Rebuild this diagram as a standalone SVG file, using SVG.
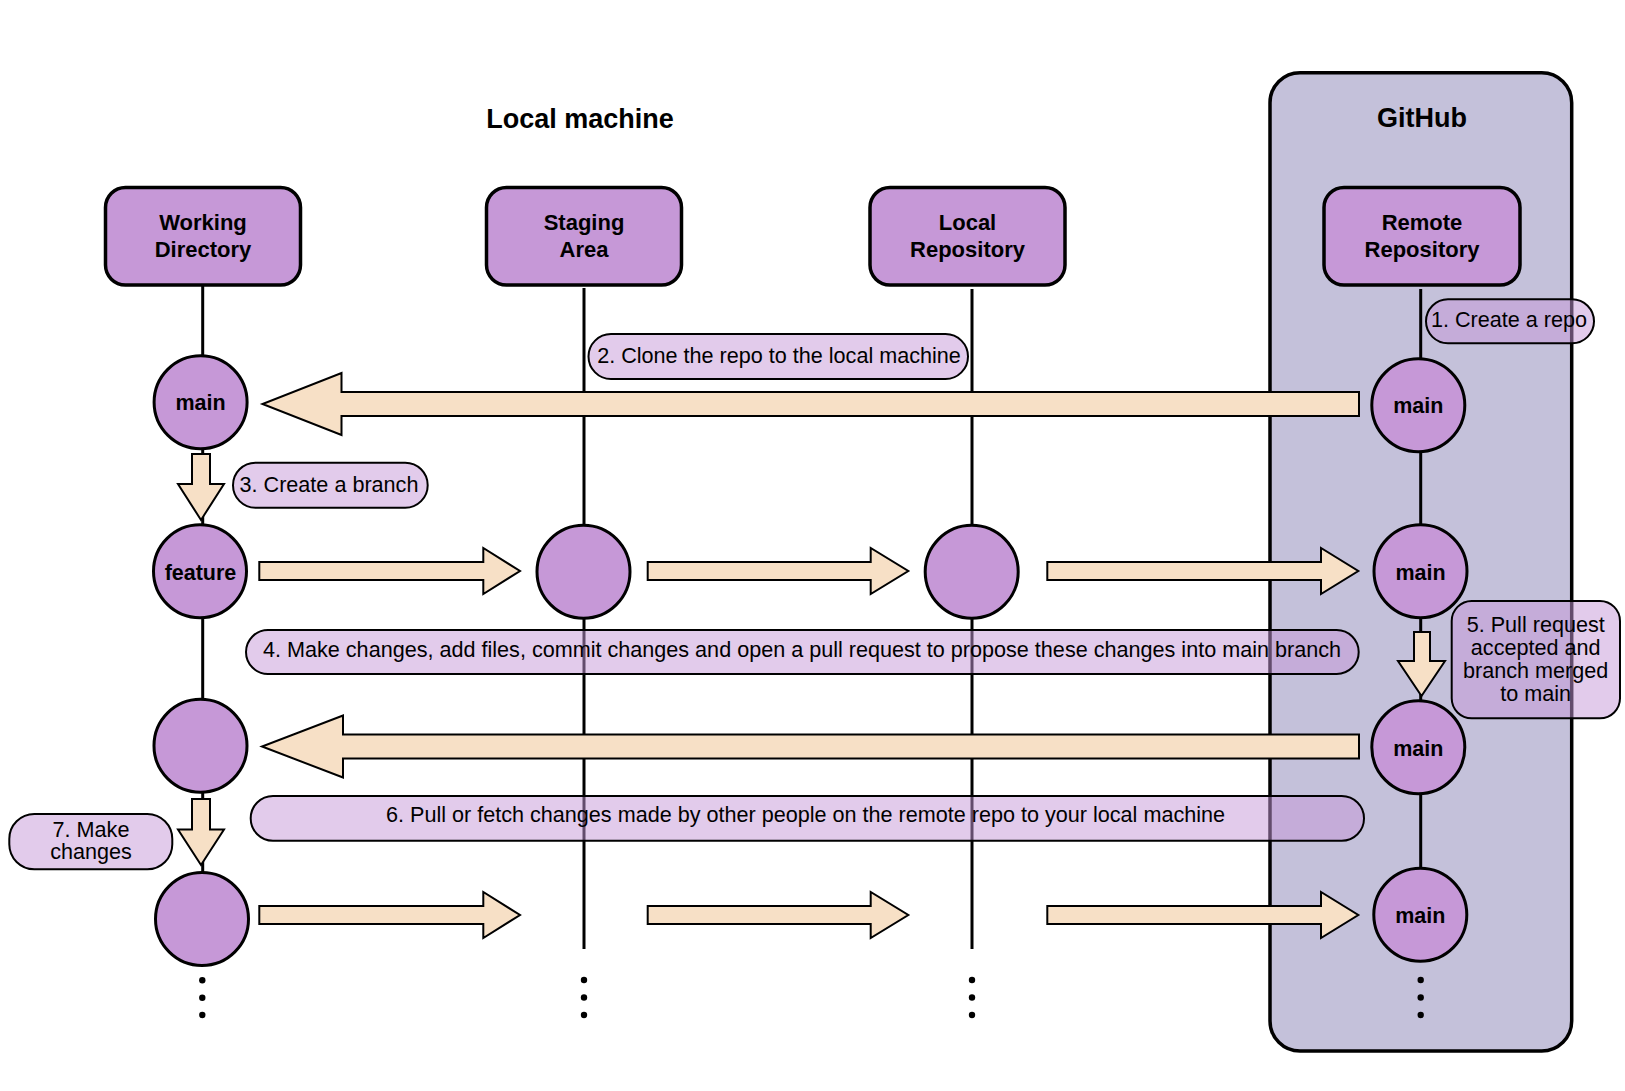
<svg xmlns="http://www.w3.org/2000/svg" width="1625" height="1091" viewBox="0 0 1625 1091">
<style>
text{font-family:"Liberation Sans",Arial,Helvetica,sans-serif;fill:#000}
.title{font-size:27px;font-weight:bold;text-anchor:middle}
.box{fill:#C698D7;stroke:#000;stroke-width:3.5}
.boxt{font-size:22px;font-weight:bold;text-anchor:middle}
.circ{fill:#C698D7;stroke:#000;stroke-width:3}
.ct{font-size:21.5px;font-weight:bold;text-anchor:middle}
.life{stroke:#000;stroke-width:3;fill:none}
.arr{fill:#F7E0C6;stroke:#000;stroke-width:2;stroke-linejoin:miter}
.lab{fill:#C698D7;fill-opacity:0.5;stroke:#000;stroke-width:2}
.lt{font-size:21.6px;text-anchor:middle}
.dot{fill:#000}
</style>
<rect width="1625" height="1091" fill="#fff"/>

<g id="github">
<rect x="1270" y="72.7" width="301.7" height="978.3" rx="30" fill="#C4C1DA" stroke="#000" stroke-width="3.5"/>
<text class="title" x="1422" y="127.3">GitHub</text>
</g>
<g id="local-machine-title">
<text class="title" x="580" y="127.7">Local machine</text>
</g>

<g id="connectors">
<line class="life" x1="202.7" y1="285" x2="202.7" y2="905"/>
<line class="life" x1="584" y1="288" x2="584" y2="949"/>
<line class="life" x1="972" y1="289" x2="972" y2="949"/>
<line class="life" x1="1420.7" y1="289" x2="1420.7" y2="900"/>

<polygon id="arrow-clone" class="arr" points="1359,392 341.5,392 341.5,373 262.5,404 341.5,435 341.5,416 1359,416"/>
<polygon id="arrow-branch" class="arr" points="192,454 210,454 210,484 224,484 201,520 178,484 192,484"/>
<polygon class="arr" points="259.3,562 483.3,562 483.3,548 520,571 483.3,594 483.3,580 259.3,580"/>
<polygon class="arr" points="647.7,562 870.7,562 870.7,548 908.3,571 870.7,594 870.7,580 647.7,580"/>
<polygon class="arr" points="1047.3,562 1321,562 1321,548 1358.3,571 1321,594 1321,580 1047.3,580"/>
<polygon id="arrow-merge" class="arr" points="1414,632 1430,632 1430,661 1445,661 1421.5,696 1398,661 1414,661"/>
<polygon id="arrow-pull" class="arr" points="1359,734.5 343,734.5 343,715.5 262,746.5 343,777.5 343,758.5 1359,758.5"/>
<polygon id="arrow-changes" class="arr" points="192,799 210,799 210,829.5 224,829.5 201,865 178,829.5 192,829.5"/>
<polygon class="arr" points="259.3,906 483.3,906 483.3,892 520,915 483.3,938 483.3,924 259.3,924"/>
<polygon class="arr" points="647.7,906 870.7,906 870.7,892 908.3,915 870.7,938 870.7,924 647.7,924"/>
<polygon class="arr" points="1047.3,906 1321,906 1321,892 1358.3,915 1321,938 1321,924 1047.3,924"/>
</g>

<g id="working-directory">
<rect class="box" x="105.5" y="187.5" width="195" height="97.5" rx="20"/>
<text class="boxt" x="203" y="230">Working</text>
<text class="boxt" x="203" y="257">Directory</text>
</g>
<g id="staging-area">
<rect class="box" x="486.5" y="187.5" width="195" height="97.5" rx="20"/>
<text class="boxt" x="584" y="230">Staging</text>
<text class="boxt" x="584" y="257">Area</text>
</g>
<g id="local-repository">
<rect class="box" x="870" y="187.5" width="195" height="97.5" rx="20"/>
<text class="boxt" x="967.5" y="230">Local</text>
<text class="boxt" x="967.5" y="257">Repository</text>
</g>
<g id="remote-repository">
<rect class="box" x="1324" y="187.5" width="196" height="97.5" rx="20"/>
<text class="boxt" x="1422" y="230">Remote</text>
<text class="boxt" x="1422" y="257">Repository</text>
</g>

<g id="wd-main">
<circle class="circ" cx="200.6" cy="402.3" r="46.5"/>
<text class="ct" x="200.6" y="410.3">main</text>
</g>
<g id="wd-feature">
<circle class="circ" cx="200" cy="571.3" r="46.5"/>
<text class="ct" x="200.5" y="579.5">feature</text>
</g>
<g id="wd-commit-3">
<circle class="circ" cx="200.5" cy="745.7" r="46.5"/>
</g>
<g id="wd-commit-4">
<circle class="circ" cx="202" cy="919" r="46.5"/>
</g>
<g id="sa-commit">
<circle class="circ" cx="583.5" cy="571.7" r="46.5"/>
</g>
<g id="lr-commit">
<circle class="circ" cx="971.7" cy="571.7" r="46.5"/>
</g>
<g id="rr-main-1">
<circle class="circ" cx="1418.3" cy="405.3" r="46.5"/>
<text class="ct" x="1418.3" y="413.3">main</text>
</g>
<g id="rr-main-2">
<circle class="circ" cx="1420.5" cy="571.3" r="46.5"/>
<text class="ct" x="1420.5" y="579.5">main</text>
</g>
<g id="rr-main-3">
<circle class="circ" cx="1418.3" cy="747.3" r="46.5"/>
<text class="ct" x="1418.3" y="755.5">main</text>
</g>
<g id="rr-main-4">
<circle class="circ" cx="1420.3" cy="914.7" r="46.5"/>
<text class="ct" x="1420.3" y="923">main</text>
</g>

<g id="label-1">
<rect class="lab" x="1426" y="299.3" width="168" height="44" rx="22"/>
<text class="lt" x="1509" y="327.3">1. Create a repo</text>
</g>
<g id="label-2">
<rect class="lab" x="588.5" y="334" width="379.5" height="45" rx="22.5"/>
<text class="lt" x="779" y="363.3">2. Clone the repo to the local machine</text>
</g>
<g id="label-3">
<rect class="lab" x="233" y="462.7" width="194.7" height="45" rx="22.5"/>
<text class="lt" x="329" y="491.7">3. Create a branch</text>
</g>
<g id="label-4">
<rect class="lab" x="246" y="630" width="1112.7" height="44" rx="22"/>
<text class="lt" x="802" y="656.7">4. Make changes, add files, commit changes and open a pull request to propose these changes into main branch</text>
</g>
<g id="label-5">
<rect class="lab" x="1451.7" y="601" width="168.3" height="117.3" rx="20"/>
<text class="lt" x="1535.7" y="631.7">5. Pull request</text>
<text class="lt" x="1535.7" y="654.5">accepted and</text>
<text class="lt" x="1535.7" y="677.5">branch merged</text>
<text class="lt" x="1535.7" y="700.5">to main</text>
</g>
<g id="label-6">
<rect class="lab" x="250.7" y="796" width="1113.3" height="44.7" rx="22.3"/>
<text class="lt" x="805.5" y="821.7">6. Pull or fetch changes made by other people on the remote repo to your local machine</text>
</g>
<g id="label-7">
<rect class="lab" x="9.3" y="814" width="163" height="55.3" rx="25"/>
<text class="lt" x="91" y="836.7">7. Make</text>
<text class="lt" x="91" y="859.3">changes</text>
</g>

<g id="continuation-dots">
<circle class="dot" cx="202.3" cy="980.3" r="3.2"/>
<circle class="dot" cx="202.3" cy="997.7" r="3.2"/>
<circle class="dot" cx="202.3" cy="1015" r="3.2"/>
<circle class="dot" cx="584" cy="980" r="3.2"/>
<circle class="dot" cx="584" cy="997.5" r="3.2"/>
<circle class="dot" cx="584" cy="1015" r="3.2"/>
<circle class="dot" cx="972" cy="980" r="3.2"/>
<circle class="dot" cx="972" cy="997.5" r="3.2"/>
<circle class="dot" cx="972" cy="1015" r="3.2"/>
<circle class="dot" cx="1420.7" cy="980" r="3.2"/>
<circle class="dot" cx="1420.7" cy="997.5" r="3.2"/>
<circle class="dot" cx="1420.7" cy="1015" r="3.2"/>
</g>
</svg>
